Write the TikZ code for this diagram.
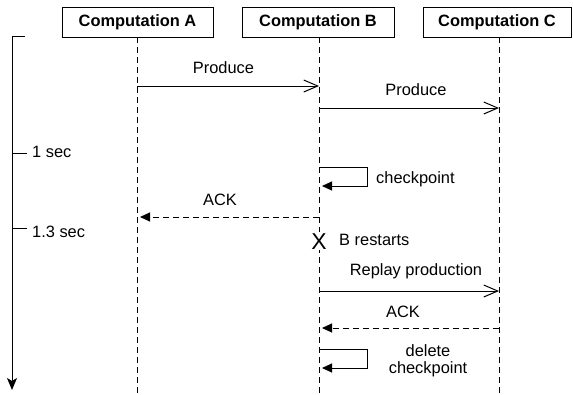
\documentclass[tikz,border=0pt]{standalone}
\usepackage{fontspec}
\setmainfont{Liberation Sans}
\usetikzlibrary{arrows.meta}
\begin{document}
\begin{tikzpicture}[x=1pt,y=-1pt,
  every node/.style={font=\fontsize{16.4}{17}\selectfont, inner sep=0pt},
  actor/.style={draw, line width=1pt, minimum height=30pt, font=\fontsize{16.4}{19}\selectfont\bfseries},
  lifeline/.style={line width=1pt, dash pattern=on 6pt off 4pt},
  msg/.style={line width=1pt, -{Straight Barb[length=14pt,width=12pt,line width=1pt]}},
  ack/.style={line width=1pt, dash pattern=on 6pt off 4pt, -{Triangle[length=10pt,width=9pt]}, shorten >=3pt},
  selfmsg/.style={line width=1pt, -{Triangle[length=10pt,width=9pt]}, shorten >=3pt},
  axis/.style={line width=1pt},
  lbl/.style={anchor=base}]
\useasboundingbox (0,0) rectangle (573,394);
\fill[white] (0,0) rectangle (573,394);
% actors
\node[actor, minimum width=151pt] (A) at (137.5,22) {Computation A};
\node[actor, minimum width=152pt] (B) at (318,22) {Computation B};
\node[actor, minimum width=148pt] (C) at (497,22) {Computation C};
% lifelines
\coordinate (Atop) at (137,37); \coordinate (Aend) at (137,394);
\coordinate (Btop) at (319,37); \coordinate (Bend) at (319,394);
\coordinate (Ctop) at (499,37); \coordinate (Cend) at (499,394);
\draw[lifeline] (Atop) -- (Aend);
\draw[lifeline] (Btop) -- (Bend);
\draw[lifeline] (Ctop) -- (Cend);
% time axis
\coordinate (tt) at (25,36); \coordinate (t0) at (12,36); \coordinate (t1) at (12,390);
\draw[axis, -{Stealth[length=12pt,width=10pt,inset=3pt]}] (tt) -- (t0) -- (t1);
\coordinate (k1a) at (12,153); \coordinate (k1b) at (27,153);
\coordinate (k2a) at (12,228); \coordinate (k2b) at (27,228);
\draw[axis] (k1a) -- (k1b);
\draw[axis] (k2a) -- (k2b);
\node[lbl, anchor=base west] (s1) at (32,157) {1 sec};
\node[lbl, anchor=base west] (s2) at (32,237) {1.3 sec};
% Produce A->B
\coordinate (a1) at (137,86); \coordinate (b1) at (319,86);
\draw[msg] (a1) -- (b1);
\node[lbl] (p1) at (223.5,73) {Produce};
% Produce B->C
\coordinate (b2) at (319,108); \coordinate (c2) at (499,108);
\draw[msg] (b2) -- (c2);
\node[lbl] (p2) at (416,95) {Produce};
% checkpoint
\coordinate (b3) at (319,167); \coordinate (r3) at (367,167); \coordinate (r4) at (367,186); \coordinate (b4) at (319,186);
\draw[selfmsg] (b3) -- (r3) -- (r4) -- (b4);
\node[lbl, anchor=base west] (cp) at (376,183) {checkpoint};
% ACK B->A
\coordinate (b5) at (319,217); \coordinate (a5) at (137,217);
\draw[ack] (b5) -- (a5);
\node[lbl] (ack1) at (220,205) {ACK};
% restart
\node[anchor=base, fill=white, inner sep=1pt, font=\fontsize{23}{25}\selectfont] (X) at (319,249) {X};
\node[lbl, anchor=base west] (rs) at (339,245) {B restarts};
% replay
\coordinate (b6) at (319,291); \coordinate (c6) at (499,291);
\draw[msg] (b6) -- (c6);
\node[lbl] (rp) at (416,275) {Replay production};
% ACK C->B
\coordinate (c7) at (499,328); \coordinate (b7) at (319,328);
\draw[ack] (c7) -- (b7);
\node[lbl] (ack2) at (403,317) {ACK};
% delete checkpoint
\coordinate (b8) at (319,349); \coordinate (r8) at (367,349); \coordinate (r9) at (367,368); \coordinate (b9) at (319,368);
\draw[selfmsg] (b8) -- (r8) -- (r9) -- (b9);
\node[lbl, align=center] (dc) at (428,373) {delete\\checkpoint};
\end{tikzpicture}
\end{document}
